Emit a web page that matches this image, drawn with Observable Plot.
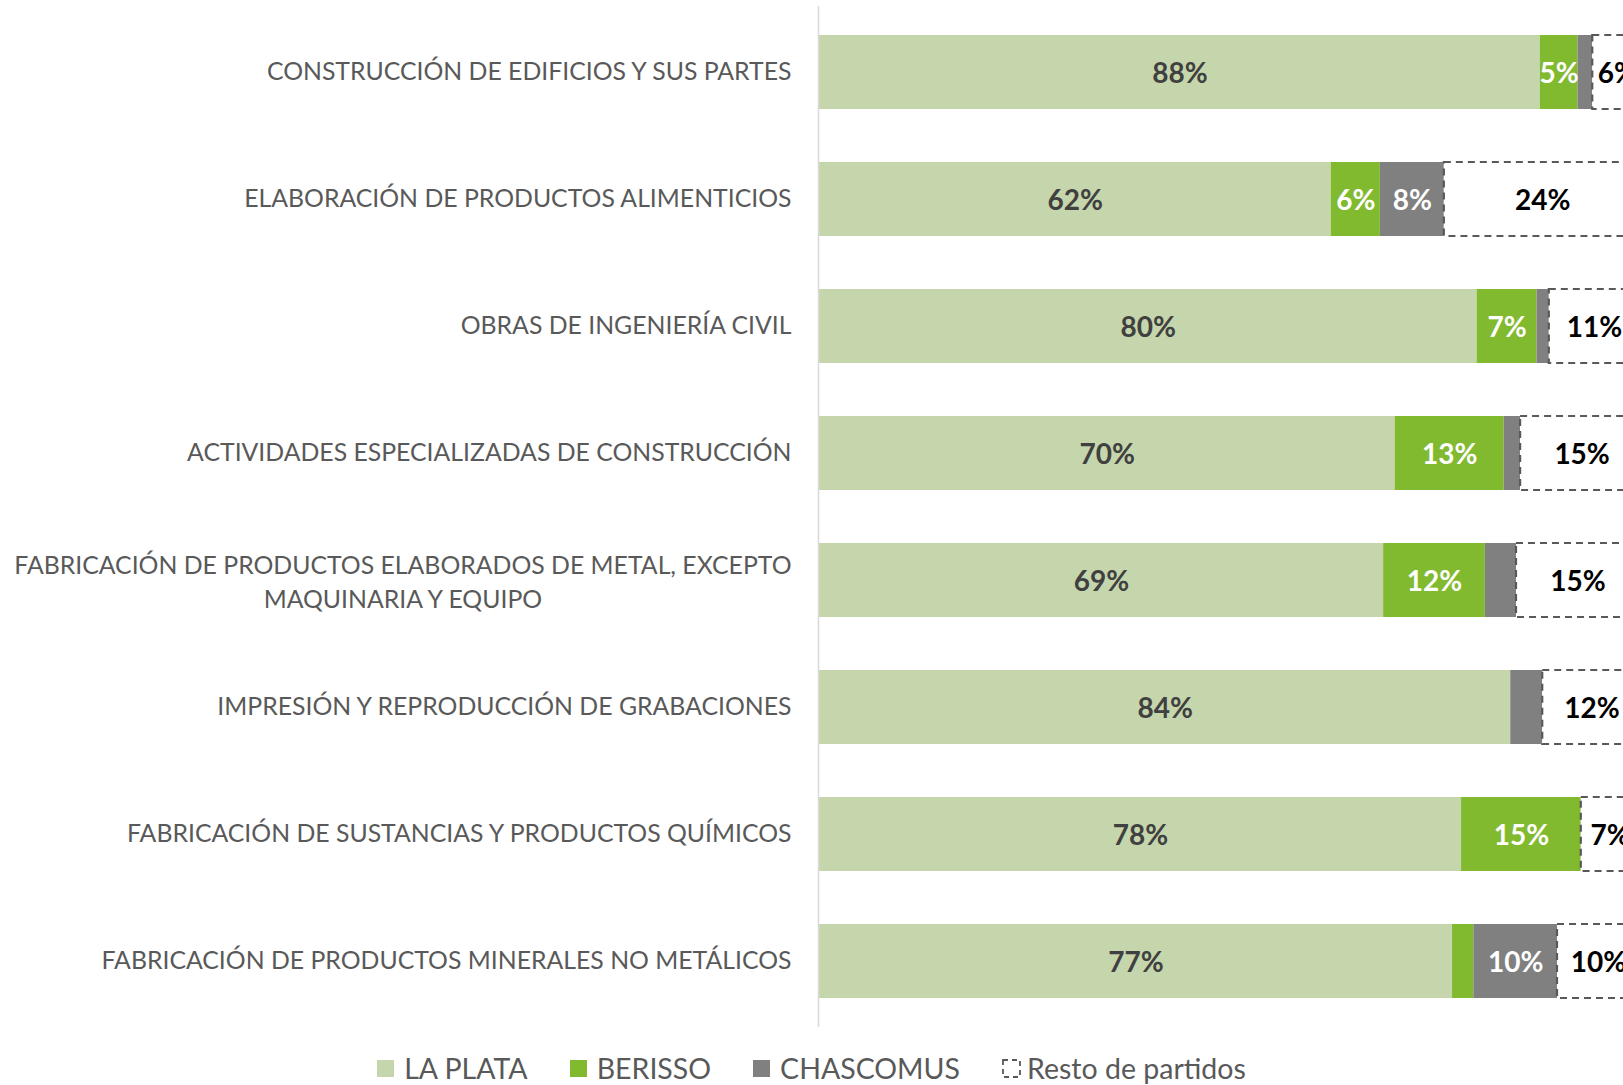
<!DOCTYPE html>
<html>
<head>
<meta charset="utf-8">
<script src="https://cdn.jsdelivr.net/npm/d3@7"></script>
<script src="https://cdn.jsdelivr.net/npm/@observablehq/plot@0.6"></script>
<style>
  html, body { margin: 0; padding: 0; background: #fff; overflow: hidden; }
  #chart { width: 1623px; }
  .legend { display: flex; justify-content: center; align-items: center; height: 46px; font-family: Lato, "Open Sans", sans-serif; font-size: 28.5px; color: #595959; }
  .legend .item { display: flex; align-items: center; margin: 0 21px; }
  .legend .sw { width: 17px; height: 17px; margin-right: 10px; display: inline-block; }
</style>
</head>
<body>
<div id="chart"></div>
<script>
const categories = [
  "CONSTRUCCIÓN DE EDIFICIOS Y SUS PARTES",
  "ELABORACIÓN DE PRODUCTOS ALIMENTICIOS",
  "OBRAS DE INGENIERÍA CIVIL",
  "ACTIVIDADES ESPECIALIZADAS DE CONSTRUCCIÓN",
  "FABRICACIÓN DE PRODUCTOS ELABORADOS DE METAL, EXCEPTO\nMAQUINARIA Y EQUIPO",
  "IMPRESIÓN Y REPRODUCCIÓN DE GRABACIONES",
  "FABRICACIÓN DE SUSTANCIAS Y PRODUCTOS QUÍMICOS",
  "FABRICACIÓN DE PRODUCTOS MINERALES NO METÁLICOS"
];
const seriesNames = ["LA PLATA", "BERISSO", "CHASCOMUS", "Resto de partidos"];
const laPlata   = [87.9, 62.4, 80.2, 70.2, 68.8, 84.3, 78.3, 77.2];
const berisso   = [4.6, 6.0, 7.3, 13.3, 12.4, 0, 14.6, 2.6];
const chascomus = [1.8, 7.8, 1.5, 2.0, 3.8, 3.9, 0, 10.2];
const resto     = [6, 24, 11, 15, 15, 12, 7, 10];

const colors = ["#C6D6AC", "#82BA2F", "#808080", "#FFFFFF"];
const labelColors = ["#404040", "#FFFFFF", "#FFFFFF", "#000000"];

const seriesValues = [laPlata, berisso, chascomus, resto];
const rows = [];
categories.forEach((cat, i) => {
  let acc = 0;
  seriesValues.forEach((vals, s) => {
    const v = vals[i];
    rows.push({cat, series: seriesNames[s], s, value: v, x1: acc, x2: acc + v});
    acc += v;
  });
});

const font = "Lato, 'Open Sans', sans-serif";
const labelSize = 24.8;
const multi = categories.filter(c => c.includes("\n"));
const single = categories.filter(c => !c.includes("\n"));

// width of the widest line of the wrapped label, to centre its lines
const ctx = document.createElement("canvas").getContext("2d");
ctx.font = `${labelSize}px ${font}`;
const multiWidth = multi.length ? d3.max(multi[0].split("\n"), l => ctx.measureText(l).width) : 0;

const chart = Plot.plot({
  width: 1623,
  height: 1045,
  marginTop: 6,
  marginBottom: 18,
  marginLeft: 819,
  marginRight: 0,
  style: {fontFamily: font, overflow: "hidden", background: "#fff"},
  x: {domain: [0, 100], range: [819, 1639], axis: null},
  y: {domain: categories, paddingInner: 0.414, paddingOuter: 0.207, axis: null},
  marks: [
    Plot.barX(rows.filter(d => d.s < 3), {
      x1: "x1", x2: "x2", y: "cat",
      fill: d => colors[d.s]
    }),
    Plot.barX(rows.filter(d => d.s === 3), {
      x1: "x1", x2: "x2", y: "cat",
      fill: "#fff", stroke: "#595959", strokeWidth: 2.2, strokeDasharray: "7,5"
    }),
    Plot.ruleX([0], {stroke: "#D9D9D9", strokeWidth: 1.5, dx: -1}),
    Plot.text(rows.filter(d => d.value >= 4.5), {
      x: d => (d.x1 + d.x2) / 2, y: "cat",
      text: d => Math.round(d.value) + "%",
      fill: d => labelColors[d.s],
      fontSize: 28, fontWeight: "bold", dy: 1.5
    }),
    Plot.text(single, {
      x: 0, y: d => d, text: d => d,
      textAnchor: "end", dx: -28,
      fill: "#595959", fontSize: labelSize
    }),
    Plot.text(multi, {
      x: 0, y: d => d, text: d => d,
      textAnchor: "middle", dx: -28 - multiWidth / 2,
      lineHeight: 1.36,
      fill: "#595959", fontSize: labelSize
    })
  ]
});
document.getElementById("chart").appendChild(chart);

// legend
const legend = document.createElement("div");
legend.className = "legend";
seriesNames.forEach((name, s) => {
  const item = document.createElement("div");
  item.className = "item";
  let sw;
  if (s < 3) {
    sw = document.createElement("span");
    sw.className = "sw";
    sw.style.background = colors[s];
  } else {
    sw = document.createElementNS("http://www.w3.org/2000/svg", "svg");
    sw.setAttribute("width", 19); sw.setAttribute("height", 19);
    sw.style.marginRight = "6px";
    sw.innerHTML = '<rect x="1" y="1" width="17" height="17" fill="#fff" stroke="#595959" stroke-width="1.8" stroke-dasharray="5,4"/>';
  }
  item.appendChild(sw);
  const t = document.createElement("span");
  t.textContent = name;
  item.appendChild(t);
  legend.appendChild(item);
});
document.body.appendChild(legend);
</script>
</body>
</html>
